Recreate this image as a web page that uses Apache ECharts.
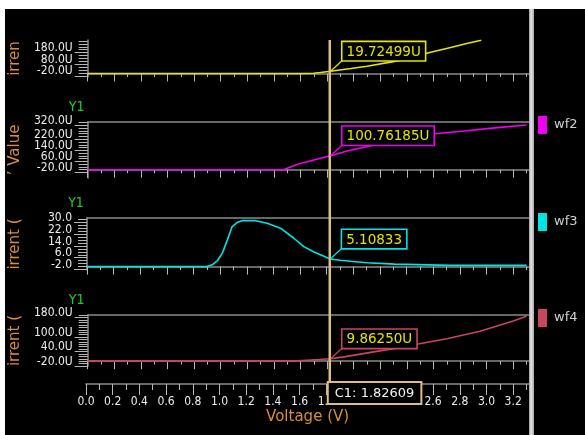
<!DOCTYPE html>
<html>
<head>
<meta charset="utf-8">
<script src="https://cdn.jsdelivr.net/npm/echarts@6/dist/echarts.min.js"></script>
<style>
  html, body { margin: 0; padding: 0; background: #ffffff; }
  #c { width: 585px; height: 435px; }
</style>
</head>
<body>
<div id="c"></div>
<script>
// Sweep voltage (V) and currents (uA, "U") for the four waveforms
const wf1V = [0, 1.60, 1.70, 1.75, 1.82609, 1.98, 2.10, 2.33, 2.54, 2.73, 2.85, 2.96];
const wf1I = [0, 0, 2, 8, 19.72499, 43, 63, 109, 172, 224, 259, 287];

const wf2V = [0, 1.47, 1.58, 1.70, 1.82609, 1.95, 2.19, 2.40, 2.61, 2.83, 3.08, 3.30];
const wf2I = [0, 0, 39, 70, 100.76185, 135, 186, 228, 260, 280, 304, 323];

const wf3V = [0, 0.90, 0.94, 0.98, 1.016, 1.054, 1.09, 1.129, 1.166, 1.266, 1.353, 1.453, 1.553, 1.628, 1.70, 1.82609, 1.90, 1.98, 2.10, 2.31, 2.73, 3.30];
const wf3I = [0, 0, 1.2, 4.1, 9.1, 18.1, 27.1, 30.0, 31.1, 31.1, 29.4, 26.0, 19.2, 13.5, 10.1, 5.10833, 4.3, 3.6, 2.6, 1.7, 0.8, 0.8];

const wf4V = [0, 1.54, 1.65, 1.74, 1.82609, 1.915, 2.365, 2.464, 2.70, 2.95, 3.20, 3.30];
const wf4I = [0, 0, 4, 7, 9.8625, 16.6, 58, 69, 93, 124, 166, 186];

// Cursor C1 and the values read at it
const cursorV = 1.82609;
const cursorVals = [19.72499, 100.76185, 5.10833, 9.86250];

// Axis tick values
const xMajorTicks = [0, 0.2, 0.4, 0.6, 0.8, 1.0, 1.2, 1.4, 1.6, 1.8, 2.0, 2.2, 2.4, 2.6, 2.8, 3.0, 3.2];
const xMinorTicks = [0.1, 0.3, 0.5, 0.7, 0.9, 1.1, 1.3, 1.5, 1.7, 1.9, 2.1, 2.3, 2.5, 2.7, 2.9, 3.1, 3.3];

const wf1Labels = [-20, 80, 180];
const wf1Minor = [-20, 5, 30, 55, 80, 105, 130, 155, 180, 205, 230, 255, 280];
const wf2Labels = [-20, 60, 140, 220, 320];
const wf2Minor = [-20, 0, 20, 40, 60, 80, 100, 120, 140, 160, 180, 200, 220, 240, 260, 280, 300, 320, 340];
const wf3Labels = [-2, 6, 14, 22, 30];
const wf3Minor = [-2, 0, 2, 4, 6, 8, 10, 12, 14, 16, 18, 20, 22, 24, 26, 28, 30, 32];
const wf4Labels = [-20, 40, 100, 180];
const wf4Minor = [-20, -10, 0, 10, 20, 30, 40, 50, 60, 70, 80, 90, 100, 110, 120, 130, 140, 150, 160, 170, 180, 190];

const NARROW = "'DejaVu Sans Condensed', 'DejaVu Sans', sans-serif";
const WIDE = "'DejaVu Sans', sans-serif";
const AXIS = '#8a8a8a';
const TICK = '#b8b8b8';
const LABEL = '#ececec';
const ORANGE = '#d88c40';
const CURSOR = '#dcbc8c';

const panels = [
  { name: 'wf1', title: 'irren',        top: 40,  height: 37, min: -30.17, max: 288.8, unit: 'U', color: '#e6e600', v: wf1V, i: wf1I, labels: wf1Labels, minor: wf1Minor, border: false, y1: false },
  { name: 'wf2', title: '\u2019 Value', top: 122, height: 56, min: -60,    max: 344.9, unit: 'U', color: '#f000f0', v: wf2V, i: wf2I, labels: wf2Labels, minor: wf2Minor, border: true,  y1: true },
  { name: 'wf3', title: 'irrent (',     top: 218, height: 52, min: -2.30,  max: 32.9,  unit: '',  color: '#00e4e4', v: wf3V, i: wf3I, labels: wf3Labels, minor: wf3Minor, border: true,  y1: true },
  { name: 'wf4', title: 'irrent (',     top: 315, height: 51, min: -20,    max: 191.1, unit: 'U', color: '#c8465e', v: wf4V, i: wf4I, labels: wf4Labels, minor: wf4Minor, border: true,  y1: true }
];

const X_MIN = 0, X_MAX = 3.32;
const LEFT = 86, WIDTH = 443.2;

const grid = [], xAxis = [], yAxis = [], series = [];

// Tick labels sit a little above their ticks; alternate labels go on the two
// stacked y axes of a strip so close neighbours are both kept.
const yLabelStyle = (values, unit) => ({
  show: true, customValues: values, color: LABEL, fontFamily: NARROW, fontSize: 12,
  margin: 15, verticalAlign: 'bottom', lineHeight: 9, hideOverlap: false,
  showMinLabel: true, showMaxLabel: true,
  formatter: v => Number(v).toFixed(1) + unit
});

panels.forEach((p, k) => {
  grid.push({ left: LEFT, width: WIDTH, top: p.top, height: p.height, containLabel: false });
  // bottom axis with long ticks
  xAxis.push({
    type: 'value', gridIndex: k, position: 'bottom', min: X_MIN, max: X_MAX,
    axisLine: { show: true, lineStyle: { color: AXIS, width: 1.5 } },
    axisTick: { show: true, customValues: xMajorTicks, length: 8, lineStyle: { color: TICK } },
    axisLabel: { show: false }, splitLine: { show: false }
  });
  // short ticks
  xAxis.push({
    type: 'value', gridIndex: k, position: 'bottom', min: X_MIN, max: X_MAX,
    axisLine: { show: false },
    axisTick: { show: true, customValues: xMinorTicks, length: 3.5, lineStyle: { color: TICK } },
    axisLabel: { show: false }, splitLine: { show: false }
  });
  // top border of the strip
  xAxis.push({
    type: 'value', gridIndex: k, position: 'top', min: X_MIN, max: X_MAX,
    axisLine: { show: p.border, lineStyle: { color: AXIS, width: 1.5 } },
    axisTick: { show: false }, axisLabel: { show: false }, splitLine: { show: false }
  });
  const evenLabels = p.labels.filter((_, j) => j % 2 === 0);
  const oddLabels = p.labels.filter((_, j) => j % 2 === 1);
  yAxis.push({
    type: 'value', gridIndex: k, position: 'left', min: p.min, max: p.max,
    name: p.title, nameLocation: 'middle', nameRotate: 90, nameGap: 64,
    nameTextStyle: { color: ORANGE, fontFamily: WIDE, fontSize: 15 },
    axisLine: { show: true, lineStyle: { color: AXIS, width: 1.5 } },
    axisTick: { show: true, customValues: p.labels, length: 13, lineStyle: { color: TICK } },
    axisLabel: yLabelStyle(evenLabels, p.unit),
    splitLine: { show: false }
  });
  yAxis.push({
    type: 'value', gridIndex: k, position: 'left', min: p.min, max: p.max,
    name: p.y1 ? 'Y1' : '', nameLocation: 'end', nameGap: 8,
    nameTextStyle: { color: '#22cc22', fontFamily: NARROW, fontSize: 14, padding: [0, 22, 0, 0] },
    axisLine: { show: false },
    axisTick: { show: true, customValues: p.minor, length: 9, lineStyle: { color: TICK } },
    axisLabel: yLabelStyle(oddLabels, p.unit),
    splitLine: { show: false }
  });
  series.push({
    name: p.name, type: 'line', xAxisIndex: 3 * k, yAxisIndex: 2 * k,
    data: p.v.map((v, j) => [v, p.i[j]]),
    showSymbol: false, symbol: 'none', color: p.color,
    lineStyle: { color: p.color, width: 1.6 }, animation: false, z: 5
  });
});

// Main voltage axis below the strips
grid.push({ left: LEFT, width: WIDTH, top: 383, height: 1 });
xAxis.push({
  type: 'value', gridIndex: 4, position: 'bottom', min: X_MIN, max: X_MAX,
  name: 'Voltage (V)', nameLocation: 'middle', nameGap: 26,
  nameTextStyle: { color: ORANGE, fontFamily: WIDE, fontSize: 15 },
  axisLine: { show: true, lineStyle: { color: AXIS, width: 1.5 } },
  axisTick: { show: true, customValues: xMajorTicks, length: 11, lineStyle: { color: TICK } },
  axisLabel: { show: true, customValues: xMajorTicks, color: LABEL, fontFamily: NARROW, fontSize: 12, margin: 12,
               formatter: v => Number(v).toFixed(1) },
  splitLine: { show: false }
});
xAxis.push({
  type: 'value', gridIndex: 4, position: 'bottom', min: X_MIN, max: X_MAX,
  axisLine: { show: false },
  axisTick: { show: true, customValues: xMinorTicks, length: 6, lineStyle: { color: TICK } },
  axisLabel: { show: false }, splitLine: { show: false }
});
yAxis.push({ type: 'value', gridIndex: 4, min: 0, max: 1, show: false });

const legendTops = [116, 213, 309];
const legend = ['wf2', 'wf3', 'wf4'].map((n, k) => ({
  data: [n], left: 538, top: legendTops[k], orient: 'vertical', icon: 'rect',
  itemWidth: 9, itemHeight: 18, itemGap: 0, padding: 0, selectedMode: false,
  textStyle: { color: '#d0d0d0', fontFamily: WIDE, fontSize: 13, padding: [0, 0, 0, 2] }
}));

const chart = echarts.init(document.getElementById('c'), null, { renderer: 'canvas' });
chart.setOption({
  backgroundColor: '#000000',
  animation: false,
  grid, xAxis, yAxis, series, legend
});

// Cursor, its readouts, frame and splitter
const topPix = chart.convertToPixel({ seriesIndex: 0 }, [cursorV, panels[0].max]);
const axisPix = chart.convertToPixel({ xAxisIndex: 12, yAxisIndex: 8 }, [cursorV, 0]);
const cx = axisPix[0];
const gfx = [
  { type: 'rect', shape: { x: 0, y: 0, width: 585, height: 9 }, style: { fill: '#ffffff' }, z: 200 },
  { type: 'rect', shape: { x: 0, y: 0, width: 5, height: 435 }, style: { fill: '#ffffff' }, z: 200 },
  { type: 'rect', shape: { x: 529, y: 9, width: 5, height: 426 },
    style: { fill: new echarts.graphic.LinearGradient(0, 0, 1, 0, [
      { offset: 0, color: '#9a9a9a' }, { offset: 0.4, color: '#e6e6e6' }, { offset: 1, color: '#a8a8a8' }]) }, z: 150 },
  { type: 'line', shape: { x1: cx, y1: topPix[1], x2: cx, y2: axisPix[1] },
    style: { stroke: CURSOR, lineWidth: 2.5 }, z: 100 },
  { type: 'text', x: cx - 1, y: axisPix[1] - 1,
    style: { text: 'C1: ' + cursorV, fill: '#f2f2f2', font: '13px ' + WIDE,
             backgroundColor: '#000000', borderColor: CURSOR, borderWidth: 2, padding: [4, 6, 3, 6],
             align: 'left', verticalAlign: 'top' }, z: 120 }
];
panels.forEach((p, k) => {
  const pt = chart.convertToPixel({ seriesIndex: k }, [cursorV, cursorVals[k]]);
  const bx = pt[0] + 12, by = pt[1] - 11;
  gfx.push({ type: 'line', shape: { x1: pt[0], y1: pt[1], x2: bx, y2: by },
             style: { stroke: p.color, lineWidth: 1.2 }, z: 110 });
  gfx.push({ type: 'text', x: bx, y: by,
             style: { text: cursorVals[k].toFixed(5) + p.unit, fill: '#e4e400', font: '13.5px ' + WIDE,
                      backgroundColor: '#000000', borderColor: p.color, borderWidth: 1.6,
                      padding: [3, 4, 1, 4], align: 'left', verticalAlign: 'bottom' }, z: 120 });
});
chart.setOption({ graphic: gfx });
</script>
</body>
</html>
